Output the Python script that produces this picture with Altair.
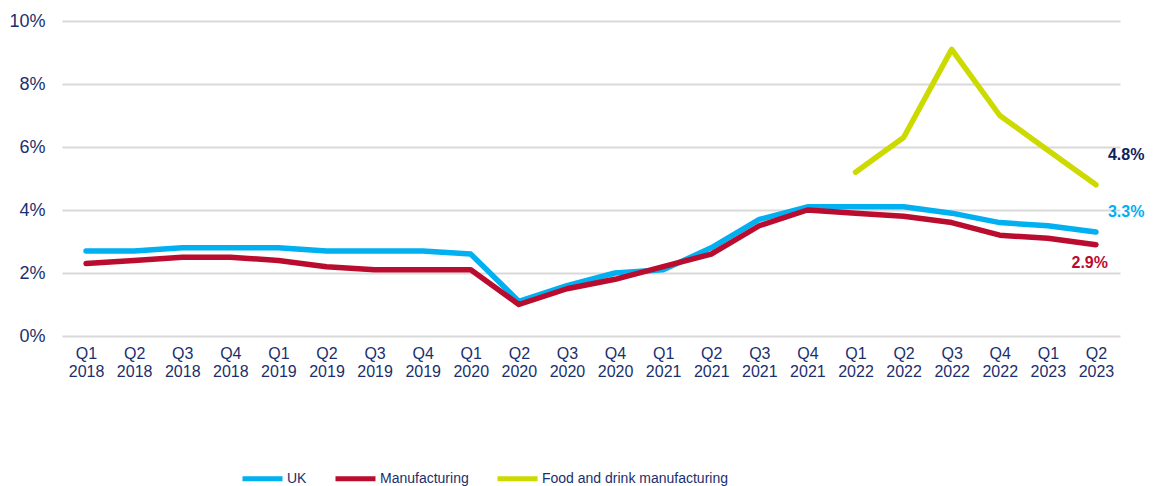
import altair as alt
import pandas as pd

quarters = [
    "Q1 2018", "Q2 2018", "Q3 2018", "Q4 2018",
    "Q1 2019", "Q2 2019", "Q3 2019", "Q4 2019",
    "Q1 2020", "Q2 2020", "Q3 2020", "Q4 2020",
    "Q1 2021", "Q2 2021", "Q3 2021", "Q4 2021",
    "Q1 2022", "Q2 2022", "Q3 2022", "Q4 2022",
    "Q1 2023", "Q2 2023",
]
uk = [2.7, 2.7, 2.8, 2.8, 2.8, 2.7, 2.7, 2.7, 2.6, 1.1, 1.6, 2.0,
      2.1, 2.8, 3.7, 4.1, 4.1, 4.1, 3.9, 3.6, 3.5, 3.3]
manufacturing = [2.3, 2.4, 2.5, 2.5, 2.4, 2.2, 2.1, 2.1, 2.1, 1.0, 1.5, 1.8,
                 2.2, 2.6, 3.5, 4.0, 3.9, 3.8, 3.6, 3.2, 3.1, 2.9]
food_quarters = ["Q1 2022", "Q2 2022", "Q3 2022", "Q4 2022", "Q1 2023", "Q2 2023"]
food = [5.2, 6.3, 9.1, 7.0, 5.9, 4.8]

series_names = ["UK", "Manufacturing", "Food and drink manufacturing"]
series_colors = ["#00B0F0", "#BA0C2F", "#CCDA00"]
label_colors = ["#00B0F0", "#BA0C2F", "#0D1F5C"]
NAVY = "#1B2F6E"
FONT = "Liberation Sans"

rows = []
for q, v in zip(quarters, uk):
    rows.append({"quarter": q, "value": v, "series": "UK"})
for q, v in zip(quarters, manufacturing):
    rows.append({"quarter": q, "value": v, "series": "Manufacturing"})
for q, v in zip(food_quarters, food):
    rows.append({"quarter": q, "value": v, "series": "Food and drink manufacturing"})
df = pd.DataFrame(rows)

x = alt.X(
    "quarter:N",
    sort=quarters,
    title=None,
    scale=alt.Scale(paddingInner=0, paddingOuter=0.5),
    axis=alt.Axis(
        labelAngle=0,
        labelExpr="split(datum.label, ' ')",
        labelLineHeight=18,
        labelFontSize=16,
        labelColor=NAVY,
        labelFont=FONT,
        labelPadding=9,
        labelBaseline="top",
        domain=False,
        ticks=False,
        grid=False,
    ),
)
y = alt.Y(
    "value:Q",
    title=None,
    scale=alt.Scale(domain=[0, 10], nice=False),
    axis=alt.Axis(
        values=[0, 2, 4, 6, 8, 10],
        labelExpr="datum.value + '%'",
        labelFontSize=18,
        labelColor=NAVY,
        labelFont=FONT,
        labelPadding=17,
        domain=False,
        ticks=False,
        grid=True,
        gridColor="#D9D9D9",
        gridWidth=2,
    ),
)

color = alt.Color(
    "series:N",
    scale=alt.Scale(domain=series_names, range=series_colors),
    legend=alt.Legend(
        title=None,
        orient="none",
        legendX=178,
        legendY=435,
        direction="horizontal",
        symbolType="stroke",
        symbolSize=1600,
        symbolStrokeWidth=5,
        labelFontSize=14,
        labelColor=NAVY,
        labelFont=FONT,
        labelOffset=2,
        labelLimit=400,
        columnPadding=18,
    ),
)

layers = []
for name in ["UK", "Manufacturing", "Food and drink manufacturing"]:
    layers.append(
        alt.Chart(df[df["series"] == name]).mark_line(
            strokeWidth=5.5, strokeCap="round", strokeJoin="round"
        ).encode(x=x, y=y, color=color)
    )

end_labels = pd.DataFrame({
    "quarter": ["Q2 2023", "Q2 2023", "Q2 2023"],
    "value": [food[-1], uk[-1], manufacturing[-1]],
    "text": [f"{food[-1]}%", f"{uk[-1]}%", f"{manufacturing[-1]}%"],
})

def end_label(i, align, dx, dy, col):
    return alt.Chart(end_labels.iloc[[i]]).mark_text(
        align=align, baseline="middle", dx=dx, dy=dy, fontSize=16, fontWeight="bold",
        font=FONT, color=col
    ).encode(x=alt.X("quarter:N", sort=quarters), y="value:Q", text="text:N")

lab_food = end_label(0, "left", 12, -30, label_colors[2])
lab_uk = end_label(1, "left", 12, -20, label_colors[0])
lab_man = end_label(2, "right", 12, 18, label_colors[1])

chart = alt.layer(*layers, lab_food, lab_uk, lab_man).properties(
    width=1058,
    height=315,
    autosize=alt.AutoSizeParams(type="none"),
    padding={"left": 54, "top": 13, "right": 25, "bottom": 150},
).configure_view(stroke=None)

chart.save("out.html", embed_options={"renderer": "svg", "actions": False})
